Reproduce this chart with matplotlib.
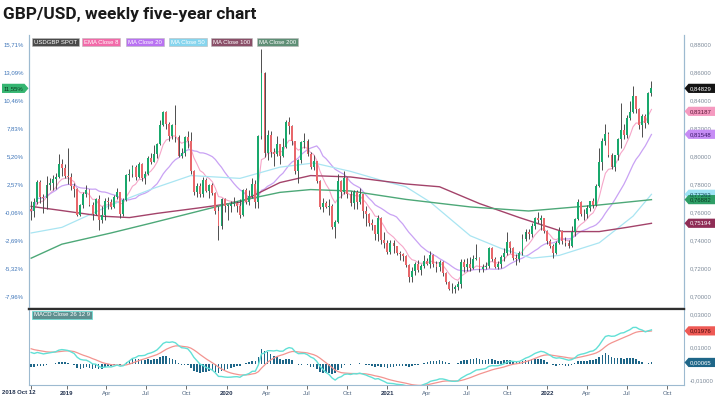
import datetime as dt

import matplotlib

matplotlib.use("Agg")
import matplotlib.pyplot as plt
from matplotlib.patches import Polygon
import numpy as np
import pandas as pd

FIG_W, FIG_H = 715, 397

# weekly USD/GBP candles, weeks ending Friday, first week 2018-10-12
start_date = dt.date(2018, 10, 12)
first_open = 0.7622
closes = [
    0.7605, 0.7669, 0.7813, 0.7710, 0.7700, 0.7794, 0.7806, 0.7839, 0.7853, 0.7946, 0.7911, 0.7859,
    0.7852, 0.7788, 0.7764, 0.7576, 0.7651, 0.7728, 0.7758, 0.7651, 0.7582, 0.7692, 0.7541, 0.7576, 0.7675,
    0.7669, 0.7639, 0.7710, 0.7740, 0.7582, 0.7686, 0.7862, 0.7868, 0.7924, 0.7849, 0.7943, 0.7843, 0.7874,
    0.7987, 0.7955, 0.8013, 0.8084, 0.8224, 0.8313, 0.8230, 0.8143, 0.8224, 0.8137, 0.8000, 0.8019, 0.8137,
    0.8110, 0.7893, 0.7746, 0.7788, 0.7728, 0.7831, 0.7752, 0.7794, 0.7734, 0.7605, 0.7502, 0.7692, 0.7645,
    0.7645, 0.7657, 0.7663, 0.7645, 0.7576, 0.7758, 0.7669, 0.7716, 0.7800, 0.7669, 0.8143, 0.8591, 0.8019,
    0.8150, 0.8026, 0.8013, 0.8084, 0.8000, 0.8065, 0.8244, 0.8217, 0.8104, 0.7893, 0.7968, 0.8097, 0.8104,
    0.8013, 0.7924, 0.7962, 0.7819, 0.7639, 0.7663, 0.7639, 0.7642, 0.7491, 0.7530, 0.7819, 0.7746, 0.7843,
    0.7728, 0.7663, 0.7740, 0.7669, 0.7728, 0.7605, 0.7582, 0.7524, 0.7508, 0.7440, 0.7559, 0.7402, 0.7375,
    0.7315, 0.7375, 0.7358, 0.7305, 0.7299, 0.7283, 0.7220, 0.7138, 0.7179, 0.7231, 0.7184, 0.7215, 0.7252,
    0.7231, 0.7294, 0.7225, 0.7210, 0.7241, 0.7163, 0.7097, 0.7052, 0.7047, 0.7062, 0.7087, 0.7246, 0.7205,
    0.7231, 0.7200, 0.7267, 0.7273, 0.7194, 0.7210, 0.7216, 0.7342, 0.7267, 0.7210, 0.7225, 0.7278, 0.7310,
    0.7386, 0.7342, 0.7273, 0.7267, 0.7310, 0.7407, 0.7457, 0.7440, 0.7502, 0.7559, 0.7541, 0.7559, 0.7463,
    0.7391, 0.7358, 0.7310, 0.7380, 0.7463, 0.7391, 0.7375, 0.7358, 0.7457, 0.7547, 0.7669, 0.7587,
    0.7582, 0.7628, 0.7675, 0.7651, 0.7788, 0.7955, 0.8104, 0.8157, 0.8006, 0.7924, 0.8006, 0.8123,
    0.8183, 0.8150, 0.8271, 0.8313, 0.8425, 0.8333, 0.8224, 0.8285, 0.8237, 0.8453, 0.84829,
]
highs = [
    0.7680, 0.7700, 0.7830, 0.7830, 0.7730, 0.7860, 0.7845, 0.7865, 0.7880, 0.8015, 0.7975, 0.7940,
    0.8060, 0.7880, 0.7810, 0.7770, 0.7660, 0.7745, 0.7790, 0.7765, 0.7670, 0.7700, 0.7720, 0.7640, 0.7700,
    0.7705, 0.7690, 0.7720, 0.7770, 0.7745, 0.7700, 0.7870, 0.7905, 0.7935, 0.7935, 0.7955, 0.7950, 0.7890,
    0.8000, 0.8020, 0.8075, 0.8090, 0.8255, 0.8323, 0.8320, 0.8240, 0.8230, 0.8362, 0.8150, 0.8060, 0.8140,
    0.8180, 0.8170, 0.7900, 0.7810, 0.7810, 0.7850, 0.7845, 0.7800, 0.7810, 0.7740, 0.7645, 0.7700, 0.7700,
    0.7655, 0.7680, 0.7710, 0.7680, 0.7690, 0.7765, 0.7770, 0.7760, 0.7840, 0.7830, 0.8150, 0.8765, 0.8600,
    0.8185, 0.8180, 0.8060, 0.8140, 0.8085, 0.8130, 0.8260, 0.8280, 0.8220, 0.8110, 0.7975, 0.8105, 0.8165,
    0.8120, 0.8030, 0.8010, 0.7965, 0.7825, 0.7700, 0.7680, 0.7690, 0.7660, 0.7540, 0.7870, 0.7830, 0.7890,
    0.7850, 0.7750, 0.7760, 0.7755, 0.7770, 0.7730, 0.7640, 0.7590, 0.7550, 0.7510, 0.7580, 0.7565, 0.7460,
    0.7400, 0.7400, 0.7400, 0.7360, 0.7320, 0.7310, 0.7290, 0.7230, 0.7210, 0.7240, 0.7260, 0.7230, 0.7290,
    0.7270, 0.7320, 0.7300, 0.7250, 0.7260, 0.7250, 0.7170, 0.7110, 0.7090, 0.7080, 0.7110, 0.7265, 0.7265,
    0.7270, 0.7275, 0.7290, 0.7368, 0.7280, 0.7230, 0.7240, 0.7351, 0.7350, 0.7280, 0.7250, 0.7290, 0.7340,
    0.7456, 0.7390, 0.7350, 0.7300, 0.7320, 0.7440, 0.7480, 0.7475, 0.7520, 0.7565, 0.7600, 0.7580, 0.7560,
    0.7470, 0.7410, 0.7370, 0.7390, 0.7490, 0.7470, 0.7420, 0.7400, 0.7500, 0.7560, 0.7692, 0.7680,
    0.7620, 0.7650, 0.7680, 0.7700, 0.7800, 0.8057, 0.8125, 0.8227, 0.8170, 0.8020, 0.8010, 0.8130,
    0.8379, 0.8230, 0.8290, 0.8390, 0.8503, 0.8430, 0.8340, 0.8300, 0.8300, 0.8460, 0.8535,
]
lows = [
    0.7545, 0.7565, 0.7655, 0.7665, 0.7590, 0.7620, 0.7755, 0.7760, 0.7765, 0.7840, 0.7860, 0.7840,
    0.7800, 0.7760, 0.7710, 0.7570, 0.7570, 0.7630, 0.7710, 0.7640, 0.7540, 0.7575, 0.7474, 0.7520, 0.7545,
    0.7620, 0.7620, 0.7630, 0.7690, 0.7560, 0.7570, 0.7680, 0.7820, 0.7850, 0.7830, 0.7840, 0.7820, 0.7800,
    0.7865, 0.7940, 0.7955, 0.7985, 0.8075, 0.8215, 0.8190, 0.8110, 0.8120, 0.8100, 0.7995, 0.7985, 0.8000,
    0.8060, 0.7870, 0.7720, 0.7710, 0.7710, 0.7710, 0.7740, 0.7700, 0.7720, 0.7585, 0.7400, 0.7480, 0.7600,
    0.7540, 0.7600, 0.7640, 0.7600, 0.7560, 0.7570, 0.7655, 0.7650, 0.7700, 0.7630, 0.7630, 0.8120, 0.7990,
    0.7970, 0.7990, 0.7930, 0.8000, 0.7940, 0.7990, 0.8060, 0.8160, 0.8080, 0.7870, 0.7805, 0.7950, 0.8060,
    0.8000, 0.7910, 0.7900, 0.7810, 0.7620, 0.7600, 0.7630, 0.7580, 0.7480, 0.7417, 0.7520, 0.7700, 0.7730,
    0.7700, 0.7640, 0.7620, 0.7620, 0.7660, 0.7560, 0.7500, 0.7500, 0.7470, 0.7400, 0.7390, 0.7370, 0.7340,
    0.7300, 0.7300, 0.7310, 0.7290, 0.7260, 0.7250, 0.7210, 0.7100, 0.7100, 0.7150, 0.7170, 0.7150, 0.7200,
    0.7220, 0.7200, 0.7210, 0.7170, 0.7180, 0.7140, 0.7085, 0.7040, 0.7020, 0.7018, 0.7040, 0.7060, 0.7170,
    0.7180, 0.7180, 0.7190, 0.7260, 0.7170, 0.7170, 0.7190, 0.7200, 0.7250, 0.7200, 0.7190, 0.7200, 0.7250,
    0.7290, 0.7310, 0.7260, 0.7220, 0.7240, 0.7290, 0.7390, 0.7410, 0.7420, 0.7480, 0.7520, 0.7470, 0.7450,
    0.7370, 0.7340, 0.7273, 0.7300, 0.7370, 0.7370, 0.7360, 0.7340, 0.7350, 0.7430, 0.7540, 0.7570,
    0.7540, 0.7560, 0.7610, 0.7630, 0.7640, 0.7780, 0.7900, 0.8080, 0.7990, 0.7910, 0.7890, 0.7970,
    0.8060, 0.8120, 0.8130, 0.8260, 0.8310, 0.8310, 0.8190, 0.8135, 0.8200, 0.8230, 0.8430,
]

ma50_weeks = [0, 10, 18, 26, 33, 40, 52, 68, 81, 92, 104, 115, 122, 130, 143, 153, 163, 172, 185, 196, 202]
ma50_values = [0.745, 0.749, 0.757, 0.765, 0.771, 0.777, 0.786, 0.784, 0.792, 0.795, 0.789, 0.782,
               0.778, 0.767, 0.743, 0.734, 0.727, 0.729, 0.738, 0.757, 0.7726]
ma100_weeks = [0, 10, 23, 32, 41, 55, 68, 81, 91, 104, 122, 133, 146, 159, 173, 185, 194, 202]
ma100_values = [0.764, 0.761, 0.757, 0.756, 0.759, 0.763, 0.767, 0.781, 0.786, 0.785, 0.780, 0.778,
                0.766, 0.756, 0.746, 0.746, 0.749, 0.7519]
ma200_weeks = [0, 10, 26, 39, 68, 81, 91, 104, 122, 143, 162, 185, 202]
ma200_values = [0.727, 0.737, 0.745, 0.752, 0.768, 0.774, 0.776, 0.775, 0.769, 0.7636, 0.7607, 0.765, 0.7688]

# MACD state at the start of the window
ema12_seed = 0.7695
ema26_seed = 0.7615
signal_seed = 0.0095

price_ticks = [0.70, 0.72, 0.74, 0.76, 0.78, 0.80, 0.82, 0.84, 0.86, 0.88]
pct_tick_labels = ["-7,96%", "-5,32%", "-2,69%", "-0,06%", "2,57%", "5,20%", "7,83%", "10,46%", "13,09%", "15,71%"]
pct_base = 0.76046
macd_ticks = [-0.01, 0.01, 0.03]

legend_labels = ["USDGBP SPOT", "EMA Close 8", "MA Close 20", "MA Close 50", "MA Close 100", "MA Close 200"]
badge_values = [0.84829, 0.83187, 0.81548, 0.77263, 0.76882, 0.75194]
macd_badge_values = [0.01976, 0.00065]

UP, DOWN, WICK = "#19a86c", "#e8676b", "#4d4d4d"
LINE_COLORS = ["#f6a6c9", "#c9a2f4", "#a9e5f2", "#a3436a", "#4da878"]
LEGEND_FACES = ["#4a4a4a", "#f26aa9", "#b972f2", "#86d5ee", "#8a4f68", "#5f8f76"]
BADGE_FACES = ["#141414", "#f59ac0", "#c68cf5", "#9ee3f5", "#2e9e66", "#8f2d56"]
BADGE_TEXT = ["white", "#5a1a3a", "#3d1a6b", "#134a5a", "#083d24", "white"]
MACD_C, SIGNAL_C, HIST_C = "#62e0d6", "#f39490", "#1e6688"
SPINE_C = "#9dbad0"
SMALL = 4.3

plt.rcParams["font.family"] = ["Liberation Sans", "DejaVu Sans"]


def fmt_dec(value, digits=5):
    return f"{value:.{digits}f}".replace(".", ",")


def ema_from(seed, values, span):
    alpha = 2 / (span + 1)
    out, prev = [], seed
    for v in values:
        prev = prev + alpha * (v - prev)
        out.append(prev)
    return np.array(out)


close = pd.Series(closes)
opens = np.array([first_open] + closes[:-1])
c = close.to_numpy()
weeks = np.arange(len(closes))
ema8 = close.ewm(span=8, adjust=False).mean()
ma20 = close.rolling(20, min_periods=1).mean()
macd = ema_from(ema12_seed, closes, 12) - ema_from(ema26_seed, closes, 26)
signal = ema_from(signal_seed, macd, 9)
hist = macd - signal

fig = plt.figure(figsize=(FIG_W / 100, FIG_H / 100), dpi=100)
ax = fig.add_axes([29 / FIG_W, 1 - 309 / FIG_H, 655 / FIG_W, 274 / FIG_H])
axm = fig.add_axes([29 / FIG_W, 1 - 385 / FIG_H, 655 / FIG_W, 76 / FIG_H], sharex=ax)

# price panel
ax.plot(weeks, ema8, color=LINE_COLORS[0], lw=0.8, zorder=2)
ax.plot(weeks, ma20, color=LINE_COLORS[1], lw=0.9, zorder=2)
ax.plot(ma50_weeks, ma50_values, color=LINE_COLORS[2], lw=0.9, zorder=2)
ax.plot(ma100_weeks, ma100_values, color=LINE_COLORS[3], lw=1.0, zorder=2)
ax.plot(ma200_weeks, ma200_values, color=LINE_COLORS[4], lw=1.0, zorder=2)
ax.vlines(weeks, lows, highs, color=WICK, lw=0.7, zorder=3)
up = c >= opens
ax.bar(weeks, np.maximum(np.abs(c - opens), 0.0004), bottom=np.minimum(c, opens), width=0.62,
       color=np.where(up, UP, DOWN), linewidth=0, zorder=4)

ax.set_xlim(-0.7, 212.6)
ax.set_ylim(0.6907, 0.8864)
ax.set_yticks(price_ticks, pct_tick_labels)
ax.tick_params(axis="y", length=0, pad=3.5, labelsize=SMALL, labelcolor="#3d74b8")
ax.tick_params(axis="x", bottom=False, labelbottom=False)
axr = ax.twinx()
axr.set_ylim(ax.get_ylim())
axr.set_yticks(price_ticks, [fmt_dec(v) for v in price_ticks])
axr.tick_params(axis="y", length=0, pad=3.8, labelsize=SMALL, labelcolor="#7d8a99")
for a in (ax, axr):
    a.spines["top"].set_visible(False)
    a.spines["left"].set_color(SPINE_C)
    a.spines["right"].set_color(SPINE_C)
    a.spines["left"].set_linewidth(0.8)
    a.spines["right"].set_linewidth(0.8)
    a.spines["bottom"].set_color("#2f2f2f")
    a.spines["bottom"].set_linewidth(1.6)

# MACD panel
axm.bar(weeks, hist, width=0.5, color=HIST_C, linewidth=0, zorder=2)
axm.plot(weeks, signal, color=SIGNAL_C, lw=0.9, zorder=3)
axm.plot(weeks, macd, color=MACD_C, lw=1.0, zorder=3)
axm.set_ylim(-0.0130, 0.0330)
axm.yaxis.tick_right()
axm.set_yticks(macd_ticks, [fmt_dec(v) for v in macd_ticks])
axm.tick_params(axis="y", length=0, pad=3.8, labelsize=SMALL, labelcolor="#7d8a99")
axm.spines["top"].set_visible(False)
for side in ("left", "right", "bottom"):
    axm.spines[side].set_color(SPINE_C)
    axm.spines[side].set_linewidth(0.8)

tick_pos, tick_lab = [0], [""]
for year in range(2019, 2023):
    for month, name in ((1, str(year)), (4, "Apr"), (7, "Jul"), (10, "Oct")):
        tick_pos.append((dt.date(year, month, 1) - start_date).days / 7)
        tick_lab.append(name)
axm.set_xticks(tick_pos, tick_lab)
axm.tick_params(axis="x", length=3, width=0.6, color="#555555", pad=1.5, labelsize=SMALL)
for label in axm.get_xticklabels():
    if label.get_text().isdigit():
        label.set_fontweight("bold")
        label.set_color("#22324f")
    else:
        label.set_color("#4f6580")
fig.text(19 / FIG_W, 1 - 392 / FIG_H, "2018 Oct 12", fontsize=SMALL, fontweight="bold",
         color="#22324f", ha="center", va="center")

# title
fig.text(3 / FIG_W, 1 - 19 / FIG_H, "GBP/USD, weekly five-year chart", fontsize=12.4,
         fontweight="bold", family=["Roboto", "DejaVu Sans"], color="#1a1a1a", va="baseline")

# legend chips
legend_x = [32, 82, 126, 169, 211, 257]
for label, x_px, face in zip(legend_labels, legend_x, LEGEND_FACES):
    fig.text((x_px + 2) / FIG_W, 1 - 42 / FIG_H, label, fontsize=SMALL, color="white", va="center",
             bbox=dict(boxstyle="square,pad=0.3", fc=face, ec="#bbbbbb", lw=0.4))
fig.text(34 / FIG_W, 1 - 315 / FIG_H, "MACD Close 26 12 9", fontsize=SMALL, color="white", va="center",
         bbox=dict(boxstyle="square,pad=0.3", fc="#5e8f8f", ec=MACD_C, lw=0.5))


def px_y(axis, value):
    return FIG_H - axis.transData.transform((0, value))[1]


def right_badge(y, text, face, text_color):
    pts = [(684.5, y), (688.5, y - 4.6), (715, y - 4.6), (715, y + 4.6), (688.5, y + 4.6)]
    fig.add_artist(Polygon([(px / FIG_W, 1 - py / FIG_H) for px, py in pts], closed=True,
                           transform=fig.transFigure, fc=face, ec="none", zorder=5))
    fig.text(690 / FIG_W, 1 - y / FIG_H, text, fontsize=SMALL, color=text_color, va="center", zorder=6)


for value, face, tcol in zip(badge_values, BADGE_FACES, BADGE_TEXT):
    right_badge(px_y(ax, value), fmt_dec(value), face, tcol)
right_badge(px_y(axm, macd_badge_values[0]), fmt_dec(macd_badge_values[0]), "#ee5a55", "#4a0808")
right_badge(px_y(axm, macd_badge_values[1]), fmt_dec(macd_badge_values[1]), HIST_C, "white")

# percent badge on the left for the last close
y_last = px_y(ax, badge_values[0])
pts = [(2, y_last - 4.6), (24.5, y_last - 4.6), (28.5, y_last), (24.5, y_last + 4.6), (2, y_last + 4.6)]
fig.add_artist(Polygon([(px / FIG_W, 1 - py / FIG_H) for px, py in pts], closed=True,
                       transform=fig.transFigure, fc="#35b571", ec="none", zorder=5))
pct_last = (badge_values[0] / pct_base - 1) * 100
fig.text(4 / FIG_W, 1 - y_last / FIG_H, fmt_dec(pct_last, 2) + "%", fontsize=SMALL, color="#0b3a20",
         va="center", zorder=6)

fig.savefig("out.png", dpi=100, facecolor="white")
